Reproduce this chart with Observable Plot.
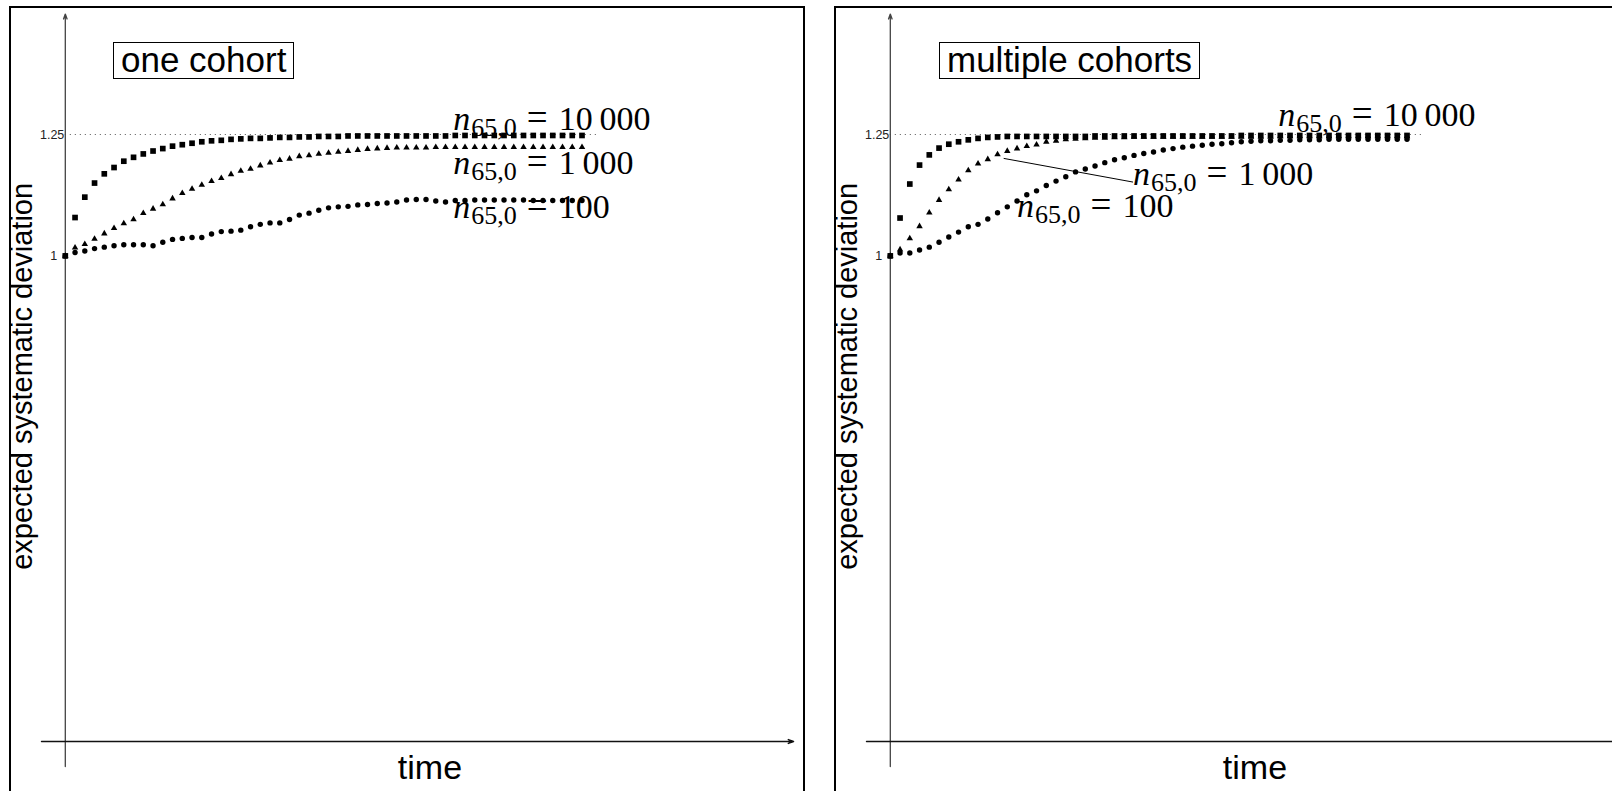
<!DOCTYPE html>
<html>
<head>
<meta charset="utf-8">
<script src="https://cdn.jsdelivr.net/npm/d3@7"></script>
<script src="https://cdn.jsdelivr.net/npm/@observablehq/plot@0.6"></script>
<style>
  html, body { margin: 0; padding: 0; background: #fff; overflow: hidden; }
  #wrap { position: relative; width: 1612px; height: 791px; overflow: hidden; }
  .panel { position: absolute; top: 0; width: 825px; height: 791px; }
  .panel svg { position: absolute; left: 0; top: 0; }
  .border { position: absolute; left: 9px; top: 6px; width: 796px; height: 900px;
            border: 2px solid #000; box-sizing: border-box; }
  .title { position: absolute; top: 42px; height: 37px; box-sizing: border-box;
           border: 1.5px solid #000; font: 35px "Liberation Sans", Arial, sans-serif;
           line-height: 34px; padding: 0 7px; white-space: nowrap; color: #000; }
</style>
</head>
<body>
<div id="wrap"></div>
<script>
// Expected systematic deviation over time, by initial cohort size n_{65,0}
const sizeLabels = ["10\u2009000", "1\u2009000", "100"];
const yTicks = [1, 1.25];
const yTickLabels = ["1", "1.25"];
const panelTitles = ["one cohort", "multiple cohorts"];

// one cohort
const one10000 = [1.000, 1.079, 1.121, 1.150, 1.169, 1.182, 1.195, 1.203, 1.210, 1.216,
  1.221, 1.226, 1.229, 1.232, 1.235, 1.237, 1.238, 1.240, 1.241, 1.242,
  1.242, 1.243, 1.244, 1.244, 1.245, 1.245, 1.246, 1.246, 1.246, 1.247,
  1.247, 1.247, 1.247, 1.247, 1.247, 1.247, 1.247, 1.247, 1.247, 1.247,
  1.248, 1.248, 1.248, 1.248, 1.248, 1.248, 1.248, 1.248, 1.248, 1.248,
  1.248, 1.248, 1.248, 1.248];
const one1000 = [1.000, 1.017, 1.024, 1.035, 1.046, 1.057, 1.067, 1.075, 1.088, 1.097,
  1.106, 1.118, 1.129, 1.138, 1.146, 1.154, 1.160, 1.168, 1.175, 1.179,
  1.186, 1.192, 1.197, 1.200, 1.205, 1.207, 1.210, 1.212, 1.214, 1.216,
  1.218, 1.220, 1.221, 1.222, 1.223, 1.223, 1.223, 1.223, 1.224, 1.224,
  1.224, 1.224, 1.224, 1.224, 1.224, 1.224, 1.224, 1.224, 1.224, 1.224,
  1.224, 1.224, 1.224, 1.224];
const one100 = [1.000, 1.007, 1.010, 1.015, 1.018, 1.021, 1.023, 1.023, 1.023, 1.021,
  1.028, 1.034, 1.036, 1.038, 1.038, 1.045, 1.050, 1.051, 1.053, 1.060,
  1.065, 1.068, 1.068, 1.075, 1.084, 1.088, 1.094, 1.099, 1.101, 1.102,
  1.105, 1.106, 1.108, 1.109, 1.111, 1.115, 1.116, 1.116, 1.113, 1.111,
  1.114, 1.114, 1.115, 1.115, 1.115, 1.115, 1.115, 1.115, 1.114, 1.114,
  1.114, 1.114, 1.114, 1.114];

// multiple cohorts
const multi10000 = [1.000, 1.078, 1.148, 1.187, 1.208, 1.222, 1.230, 1.235, 1.239, 1.242,
  1.244, 1.245, 1.246, 1.246, 1.246, 1.246, 1.246, 1.246, 1.246, 1.246,
  1.246, 1.247, 1.247, 1.247, 1.247, 1.247, 1.247, 1.247, 1.247, 1.247,
  1.247, 1.247, 1.247, 1.247, 1.247, 1.247, 1.248, 1.248, 1.248, 1.248,
  1.248, 1.248, 1.248, 1.248, 1.248, 1.248, 1.248, 1.248, 1.248, 1.248,
  1.248, 1.248, 1.248, 1.248];
const multi1000 = [1.000, 1.013, 1.036, 1.061, 1.089, 1.115, 1.137, 1.157, 1.176, 1.190,
  1.199, 1.209, 1.216, 1.221, 1.226, 1.229, 1.235, 1.237, 1.240, 1.241,
  1.242, 1.243, 1.243, 1.244, 1.244, 1.245, 1.245, 1.245, 1.245, 1.245,
  1.245, 1.245, 1.245, 1.245, 1.245, 1.245, 1.245, 1.245, 1.245, 1.245,
  1.246, 1.246, 1.246, 1.246, 1.246, 1.246, 1.246, 1.246, 1.246, 1.246,
  1.246, 1.246, 1.246, 1.246];
const multi100 = [1.000, 1.006, 1.006, 1.012, 1.018, 1.028, 1.039, 1.049, 1.060, 1.065,
  1.076, 1.089, 1.101, 1.113, 1.126, 1.134, 1.145, 1.154, 1.163, 1.173,
  1.179, 1.185, 1.192, 1.198, 1.202, 1.207, 1.211, 1.214, 1.218, 1.221,
  1.224, 1.226, 1.228, 1.230, 1.231, 1.233, 1.235, 1.236, 1.237, 1.237,
  1.238, 1.238, 1.239, 1.239, 1.239, 1.240, 1.240, 1.240, 1.240, 1.240,
  1.240, 1.240, 1.240, 1.240];

const SANS = '"Liberation Sans", Arial, Helvetica, sans-serif';
const SERIF = '"Liberation Serif", "Times New Roman", serif';

const toPoints = (values) => values.map((v, i) => ({t: i, v}));

function drawPanel(left, title, series, labels, leader) {
  const wrap = document.getElementById("wrap");
  const panel = document.createElement("div");
  panel.className = "panel";
  panel.style.left = left + "px";
  wrap.appendChild(panel);

  const border = document.createElement("div");
  border.className = "border";
  panel.appendChild(border);

  const [big, mid, small] = series.map(toPoints);

  const marks = [
    // reference level
    Plot.ruleY([1.25], {x1: 0, x2: 54.6, stroke: "#555", strokeWidth: 1, strokeDasharray: "1 4"}),
    // axes drawn as a coordinate cross
    Plot.arrow([{x1: 0, y1: -0.0515, x2: 0, y2: 1.498}], {
      x1: "x1", y1: "y1", x2: "x2", y2: "y2", stroke: "#444", strokeWidth: 1.3,
      headLength: 6, headAngle: 40
    }),
    Plot.arrow([{x1: -2.44, y1: 0, x2: 74.7, y2: 0}], {
      x1: "x1", y1: "y1", x2: "x2", y2: "y2", stroke: "#111", strokeWidth: 1.4,
      headLength: 6, headAngle: 40
    }),
    Plot.text([yTickLabels[1]], {x: 0, y: yTicks[1], dx: -1, textAnchor: "end",
      fontSize: 12.5, fontFamily: SANS, fill: "#222"}),
    Plot.text([yTickLabels[0]], {x: 0, y: yTicks[0], dx: -8, textAnchor: "end",
      fontSize: 12.5, fontFamily: SANS, fill: "#222"}),
    Plot.text(["expected systematic deviation"], {x: -4.33, y: 0.752, rotate: -90,
      fontSize: 29, fontFamily: SANS, fill: "#000"}),
    Plot.text(["time"], {x: 37.4, y: -0.0762, lineAnchor: "bottom",
      fontSize: 34, fontFamily: SANS, fill: "#000"})
  ];

  if (leader) {
    marks.push(Plot.link([leader], {x1: "x1", y1: "y1", x2: "x2", y2: "y2",
      stroke: "#000", strokeWidth: 1}));
  }

  marks.push(
    Plot.dot(big, {x: "t", y: "v", symbol: "square", r: 3.2, fill: "#000", stroke: "none"}),
    Plot.dot(mid, {x: "t", y: "v", symbol: "triangle", r: 2.4, fill: "#000", stroke: "none"}),
    Plot.dot(small, {x: "t", y: "v", symbol: "circle", r: 2.7, fill: "#000", stroke: "none"}),
    Plot.text(labels, {x: "x", y: "y", text: (d) => "n|65,0|" + d.label,
      textAnchor: "start", lineAnchor: "bottom", fontSize: 34, fontFamily: SERIF, fill: "#000"})
  );

  const svg = Plot.plot({
    width: 825,
    height: 791,
    marginLeft: 64.8,
    marginRight: 29,
    marginTop: 12.6,
    marginBottom: 50,
    style: {background: "transparent", overflow: "visible"},
    x: {domain: [0, 75], axis: null},
    y: {domain: [0, 1.5], axis: null},
    marks
  });

  // typeset n_{65,0} = ... labels with an italic n, a lowered subscript and wide relation spacing
  d3.select(svg).selectAll("text").each(function () {
    const s = this.textContent;
    if (!s.includes("|")) return;
    const [n, sub, rest] = s.split("|");
    const t = d3.select(this);
    t.text(null);
    t.append("tspan").attr("font-style", "italic").text(n);
    t.append("tspan").attr("font-size", "26px").attr("dy", "6").attr("dx", "1").text(sub);
    t.append("tspan").attr("dy", "-6").attr("dx", "10").attr("font-size", "37px").text("=");
    t.append("tspan").attr("dx", "11").text(rest);
  });

  panel.appendChild(svg);

  const box = document.createElement("div");
  box.className = "title";
  box.style.left = (left === 0 ? 113 : 114) + "px";
  box.textContent = title;
  panel.appendChild(box);
}

drawPanel(0, panelTitles[0], [one10000, one1000, one100], [
  {x: 39.8, y: 1.2597, label: sizeLabels[0]},
  {x: 39.8, y: 1.169, label: sizeLabels[1]},
  {x: 39.8, y: 1.079, label: sizeLabels[2]}
], null);

drawPanel(825, panelTitles[1], [multi10000, multi1000, multi100], [
  {x: 39.8, y: 1.2665, label: sizeLabels[0]},
  {x: 24.9, y: 1.145, label: sizeLabels[1]},
  {x: 13.0, y: 1.081, label: sizeLabels[2]}
], {x1: 11.63, y1: 1.2008, x2: 24.9, y2: 1.152});
</script>
</body>
</html>
